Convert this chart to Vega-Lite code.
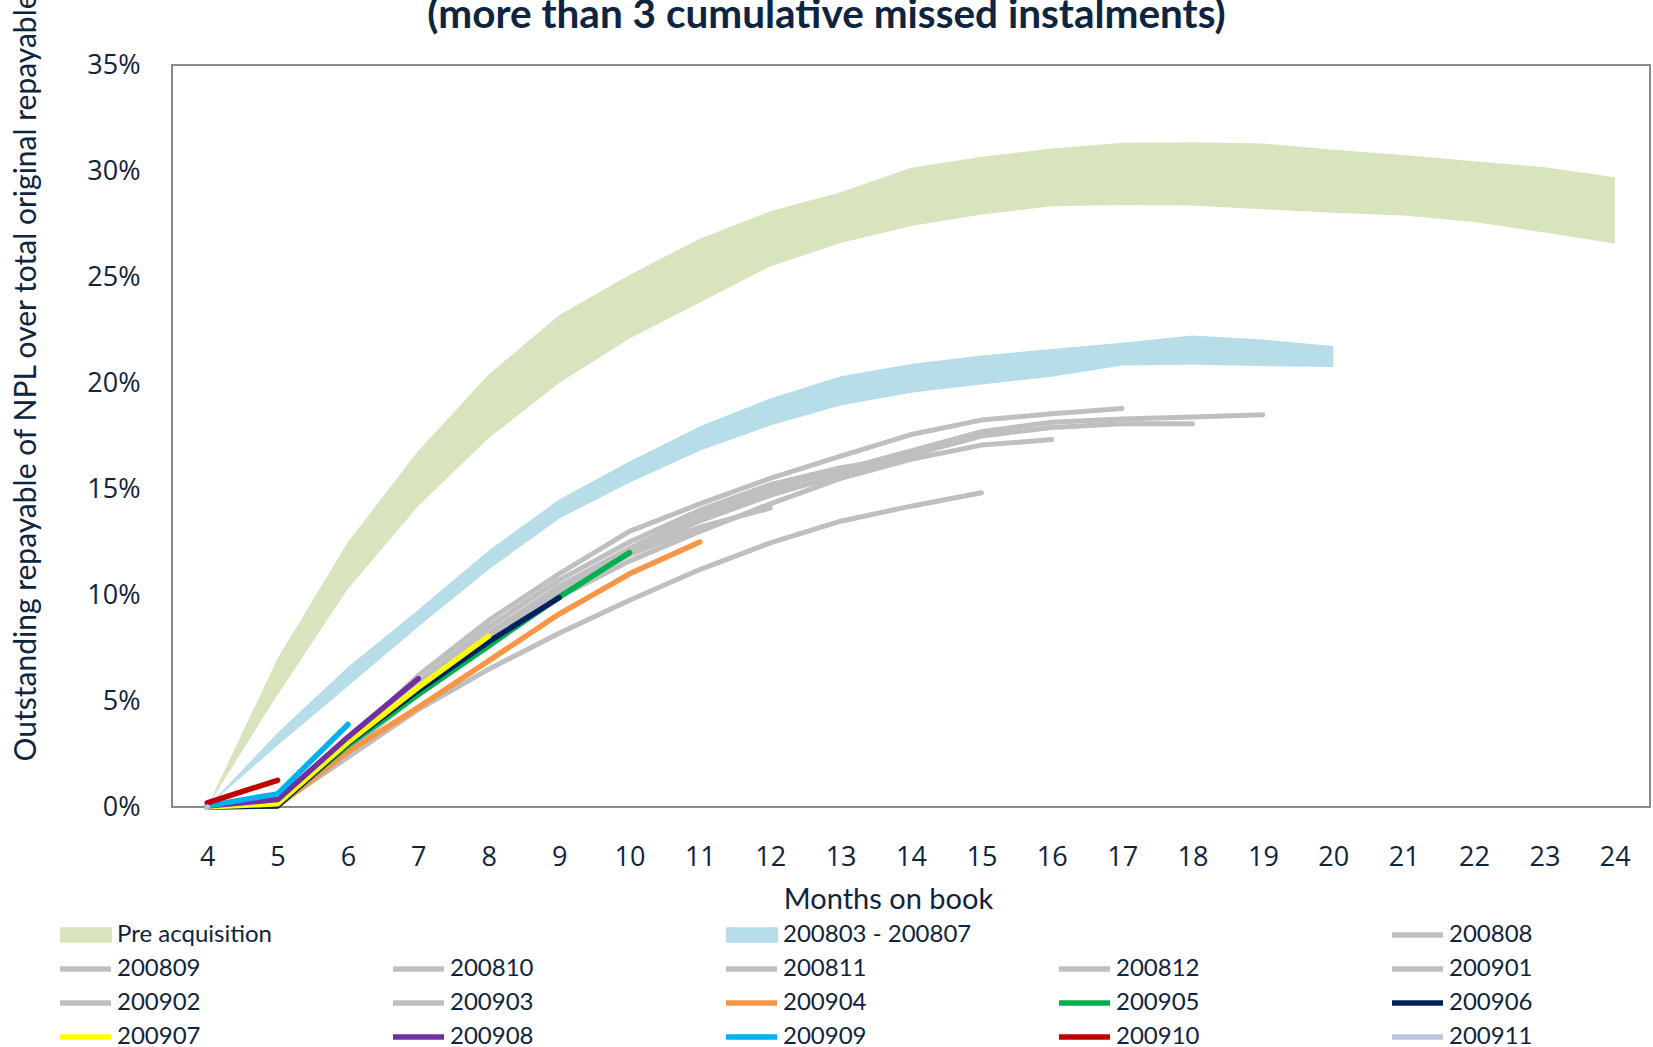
{
  "$schema": "https://vega.github.io/schema/vega-lite/v6.json",
  "width": 1478,
  "height": 742,
  "autosize": {"type": "none"},
  "padding": {"left": 172, "top": 65, "right": 3, "bottom": 240},
  "background": "white",
  "config": {
    "view": {"stroke": "#898989", "strokeWidth": 2},
    "font": "Lato"
  },
  "resolve": {"axis": {"x": "independent"}},
  "datasets": {
    "areas": [
      {"series": "Pre acquisition", "month": 4, "lo": 0, "hi": 0},
      {"series": "Pre acquisition", "month": 5, "lo": 0.053, "hi": 0.070},
      {"series": "Pre acquisition", "month": 6, "lo": 0.103, "hi": 0.125},
      {"series": "Pre acquisition", "month": 7, "lo": 0.142, "hi": 0.168},
      {"series": "Pre acquisition", "month": 8, "lo": 0.174, "hi": 0.204},
      {"series": "Pre acquisition", "month": 9, "lo": 0.200, "hi": 0.232},
      {"series": "Pre acquisition", "month": 10, "lo": 0.221, "hi": 0.251},
      {"series": "Pre acquisition", "month": 11, "lo": 0.238, "hi": 0.268},
      {"series": "Pre acquisition", "month": 12, "lo": 0.255, "hi": 0.281},
      {"series": "Pre acquisition", "month": 13, "lo": 0.266, "hi": 0.290},
      {"series": "Pre acquisition", "month": 14, "lo": 0.274, "hi": 0.3015},
      {"series": "Pre acquisition", "month": 15, "lo": 0.2795, "hi": 0.3067},
      {"series": "Pre acquisition", "month": 16, "lo": 0.2834, "hi": 0.3106},
      {"series": "Pre acquisition", "month": 17, "lo": 0.284, "hi": 0.3133},
      {"series": "Pre acquisition", "month": 18, "lo": 0.2837, "hi": 0.3136},
      {"series": "Pre acquisition", "month": 19, "lo": 0.282, "hi": 0.313},
      {"series": "Pre acquisition", "month": 20, "lo": 0.2803, "hi": 0.310},
      {"series": "Pre acquisition", "month": 21, "lo": 0.279, "hi": 0.3076},
      {"series": "Pre acquisition", "month": 22, "lo": 0.276, "hi": 0.3046},
      {"series": "Pre acquisition", "month": 23, "lo": 0.271, "hi": 0.3018},
      {"series": "Pre acquisition", "month": 24, "lo": 0.2658, "hi": 0.297},
      {"series": "200803 - 200807", "month": 4, "lo": 0, "hi": 0},
      {"series": "200803 - 200807", "month": 5, "lo": 0.029, "hi": 0.035},
      {"series": "200803 - 200807", "month": 6, "lo": 0.057, "hi": 0.066},
      {"series": "200803 - 200807", "month": 7, "lo": 0.085, "hi": 0.093},
      {"series": "200803 - 200807", "month": 8, "lo": 0.112, "hi": 0.121},
      {"series": "200803 - 200807", "month": 9, "lo": 0.136, "hi": 0.145},
      {"series": "200803 - 200807", "month": 10, "lo": 0.153, "hi": 0.163},
      {"series": "200803 - 200807", "month": 11, "lo": 0.168, "hi": 0.1796},
      {"series": "200803 - 200807", "month": 12, "lo": 0.180, "hi": 0.1927},
      {"series": "200803 - 200807", "month": 13, "lo": 0.1894, "hi": 0.2032},
      {"series": "200803 - 200807", "month": 14, "lo": 0.1954, "hi": 0.209},
      {"series": "200803 - 200807", "month": 15, "lo": 0.1993, "hi": 0.213},
      {"series": "200803 - 200807", "month": 16, "lo": 0.2029, "hi": 0.216},
      {"series": "200803 - 200807", "month": 17, "lo": 0.2083, "hi": 0.219},
      {"series": "200803 - 200807", "month": 18, "lo": 0.2086, "hi": 0.2224},
      {"series": "200803 - 200807", "month": 19, "lo": 0.208, "hi": 0.2205},
      {"series": "200803 - 200807", "month": 20, "lo": 0.2076, "hi": 0.2174}
    ],
    "gray": [
      {"series": "200808", "month": 4, "value": 0},
      {"series": "200808", "month": 5, "value": 0.002},
      {"series": "200808", "month": 6, "value": 0.028},
      {"series": "200808", "month": 7, "value": 0.056},
      {"series": "200808", "month": 8, "value": 0.081},
      {"series": "200808", "month": 9, "value": 0.104},
      {"series": "200808", "month": 10, "value": 0.122},
      {"series": "200808", "month": 11, "value": 0.138},
      {"series": "200808", "month": 12, "value": 0.150},
      {"series": "200808", "month": 13, "value": 0.159},
      {"series": "200808", "month": 14, "value": 0.168},
      {"series": "200808", "month": 15, "value": 0.177},
      {"series": "200808", "month": 16, "value": 0.1815},
      {"series": "200808", "month": 17, "value": 0.183},
      {"series": "200808", "month": 18, "value": 0.184},
      {"series": "200808", "month": 19, "value": 0.185},
      {"series": "200809", "month": 4, "value": 0},
      {"series": "200809", "month": 5, "value": 0.002},
      {"series": "200809", "month": 6, "value": 0.028},
      {"series": "200809", "month": 7, "value": 0.055},
      {"series": "200809", "month": 8, "value": 0.080},
      {"series": "200809", "month": 9, "value": 0.102},
      {"series": "200809", "month": 10, "value": 0.120},
      {"series": "200809", "month": 11, "value": 0.135},
      {"series": "200809", "month": 12, "value": 0.147},
      {"series": "200809", "month": 13, "value": 0.157},
      {"series": "200809", "month": 14, "value": 0.166},
      {"series": "200809", "month": 15, "value": 0.175},
      {"series": "200809", "month": 16, "value": 0.179},
      {"series": "200809", "month": 17, "value": 0.1808},
      {"series": "200809", "month": 18, "value": 0.1808},
      {"series": "200810", "month": 4, "value": 0},
      {"series": "200810", "month": 5, "value": 0.002},
      {"series": "200810", "month": 6, "value": 0.031},
      {"series": "200810", "month": 7, "value": 0.062},
      {"series": "200810", "month": 8, "value": 0.088},
      {"series": "200810", "month": 9, "value": 0.110},
      {"series": "200810", "month": 10, "value": 0.130},
      {"series": "200810", "month": 11, "value": 0.143},
      {"series": "200810", "month": 12, "value": 0.155},
      {"series": "200810", "month": 13, "value": 0.1655},
      {"series": "200810", "month": 14, "value": 0.1757},
      {"series": "200810", "month": 15, "value": 0.1825},
      {"series": "200810", "month": 16, "value": 0.1855},
      {"series": "200810", "month": 17, "value": 0.188},
      {"series": "200811", "month": 4, "value": 0},
      {"series": "200811", "month": 5, "value": 0.0015},
      {"series": "200811", "month": 6, "value": 0.027},
      {"series": "200811", "month": 7, "value": 0.053},
      {"series": "200811", "month": 8, "value": 0.077},
      {"series": "200811", "month": 9, "value": 0.099},
      {"series": "200811", "month": 10, "value": 0.116},
      {"series": "200811", "month": 11, "value": 0.130},
      {"series": "200811", "month": 12, "value": 0.143},
      {"series": "200811", "month": 13, "value": 0.155},
      {"series": "200811", "month": 14, "value": 0.164},
      {"series": "200811", "month": 15, "value": 0.1707},
      {"series": "200811", "month": 16, "value": 0.1733},
      {"series": "200812", "month": 4, "value": 0},
      {"series": "200812", "month": 5, "value": 0.001},
      {"series": "200812", "month": 6, "value": 0.0235},
      {"series": "200812", "month": 7, "value": 0.046},
      {"series": "200812", "month": 8, "value": 0.065},
      {"series": "200812", "month": 9, "value": 0.082},
      {"series": "200812", "month": 10, "value": 0.0975},
      {"series": "200812", "month": 11, "value": 0.112},
      {"series": "200812", "month": 12, "value": 0.1246},
      {"series": "200812", "month": 13, "value": 0.1348},
      {"series": "200812", "month": 14, "value": 0.1419},
      {"series": "200812", "month": 15, "value": 0.1482},
      {"series": "200901", "month": 4, "value": 0},
      {"series": "200901", "month": 5, "value": 0.002},
      {"series": "200901", "month": 6, "value": 0.030},
      {"series": "200901", "month": 7, "value": 0.059},
      {"series": "200901", "month": 8, "value": 0.085},
      {"series": "200901", "month": 9, "value": 0.107},
      {"series": "200901", "month": 10, "value": 0.125},
      {"series": "200901", "month": 11, "value": 0.140},
      {"series": "200901", "month": 12, "value": 0.152},
      {"series": "200901", "month": 13, "value": 0.160},
      {"series": "200901", "month": 14, "value": 0.1652},
      {"series": "200902", "month": 4, "value": 0},
      {"series": "200902", "month": 5, "value": 0.002},
      {"series": "200902", "month": 6, "value": 0.029},
      {"series": "200902", "month": 7, "value": 0.057},
      {"series": "200902", "month": 8, "value": 0.082},
      {"series": "200902", "month": 9, "value": 0.104},
      {"series": "200902", "month": 10, "value": 0.121},
      {"series": "200902", "month": 11, "value": 0.136},
      {"series": "200902", "month": 12, "value": 0.148},
      {"series": "200902", "month": 13, "value": 0.156},
      {"series": "200903", "month": 4, "value": 0},
      {"series": "200903", "month": 5, "value": 0.0015},
      {"series": "200903", "month": 6, "value": 0.028},
      {"series": "200903", "month": 7, "value": 0.055},
      {"series": "200903", "month": 8, "value": 0.080},
      {"series": "200903", "month": 9, "value": 0.101},
      {"series": "200903", "month": 10, "value": 0.119},
      {"series": "200903", "month": 11, "value": 0.132},
      {"series": "200903", "month": 12, "value": 0.141}
    ],
    "colored": [
      {"series": "200904", "month": 4, "value": 0},
      {"series": "200904", "month": 5, "value": 0.0005},
      {"series": "200904", "month": 6, "value": 0.026},
      {"series": "200904", "month": 7, "value": 0.047},
      {"series": "200904", "month": 8, "value": 0.069},
      {"series": "200904", "month": 9, "value": 0.091},
      {"series": "200904", "month": 10, "value": 0.110},
      {"series": "200904", "month": 11, "value": 0.125},
      {"series": "200905", "month": 4, "value": 0},
      {"series": "200905", "month": 5, "value": 0.001},
      {"series": "200905", "month": 6, "value": 0.029},
      {"series": "200905", "month": 7, "value": 0.053},
      {"series": "200905", "month": 8, "value": 0.076},
      {"series": "200905", "month": 9, "value": 0.099},
      {"series": "200905", "month": 10, "value": 0.120},
      {"series": "200906", "month": 4, "value": 0},
      {"series": "200906", "month": 5, "value": 0.0005},
      {"series": "200906", "month": 6, "value": 0.030},
      {"series": "200906", "month": 7, "value": 0.055},
      {"series": "200906", "month": 8, "value": 0.078},
      {"series": "200906", "month": 9, "value": 0.0987},
      {"series": "200907", "month": 4, "value": 0},
      {"series": "200907", "month": 5, "value": 0.0015},
      {"series": "200907", "month": 6, "value": 0.0305},
      {"series": "200907", "month": 7, "value": 0.0565},
      {"series": "200907", "month": 8, "value": 0.0806},
      {"series": "200908", "month": 4, "value": 0.0005},
      {"series": "200908", "month": 5, "value": 0.0035},
      {"series": "200908", "month": 6, "value": 0.033},
      {"series": "200908", "month": 7, "value": 0.0605},
      {"series": "200909", "month": 4, "value": 0.0005},
      {"series": "200909", "month": 5, "value": 0.0062},
      {"series": "200909", "month": 6, "value": 0.0389},
      {"series": "200910", "month": 4, "value": 0.002},
      {"series": "200910", "month": 5, "value": 0.0126},
      {"series": "200911", "month": 4, "value": 0}
    ]
  },
  "encoding": {
    "color": {
      "field": "series", "type": "nominal",
      "scale": {
        "domain": ["Pre acquisition", " ", "200803 - 200807", "  ", "200808", "200809", "200810", "200811", "200812", "200901", "200902", "200903", "200904", "200905", "200906", "200907", "200908", "200909", "200910", "200911"],
        "range": ["#D7E4BD", "rgba(255,255,255,0)", "#B7DEE8", "rgba(255,255,255,0)", "#BFBFBF", "#BFBFBF", "#BFBFBF", "#BFBFBF", "#BFBFBF", "#BFBFBF", "#BFBFBF", "#BFBFBF", "#F79646", "#00B050", "#002060", "#FFFF00", "#7030A0", "#00B0F0", "#C00000", "#B9C6DE"]
      },
      "legend": {
        "orient": "none", "legendX": -115, "legendY": 858, "direction": "horizontal",
        "columns": 5, "gridAlign": "all", "columnPadding": 84, "rowPadding": 10, "padding": 0,
        "title": null, "symbolSize": 400, "symbolStrokeWidth": 0, "labelOffset": 36,
        "labelFont": "Lato", "labelFontSize": 24, "labelColor": "#0F243E", "labelLimit": 400,
        "encode": {
          "symbols": {
            "update": {
              "shape": {"signal": "(datum.value === 'Pre acquisition' || datum.value === '200803 - 200807') ? 'M-0.9,-0.78H4.3V0.78H-0.9Z' : 'M-0.9,-0.28H4.2V0.28H-0.9Z'"},
              "fill": {"signal": "scale('color', datum.value)"},
              "opacity": {"value": 1},
              "fillOpacity": {"value": 1},
              "stroke": {"value": "transparent"},
              "strokeWidth": {"value": 0}
            }
          }
        }
      }
    }
  },
  "layer": [
    {
      "data": {"name": "areas"},
      "mark": {"type": "area", "opacity": 1, "interpolate": "linear"},
      "encoding": {
        "x": {
          "field": "month", "type": "quantitative",
          "scale": {"domain": [3.5, 24.5], "nice": false, "zero": false},
          "axis": {
            "orient": "bottom",
            "values": [4,5,6,7,8,9,10,11,12,13,14,15,16,17,18,19,20,21,22,23,24],
            "format": "d", "labelFont": "Open Sans", "labelFontSize": 27, "labelColor": "#0F243E",
            "labelPadding": 37, "labelFlush": false, "labelOverlap": false,
            "ticks": false, "domain": false, "grid": false,
            "title": "Months on book", "titleFont": "Lato", "titleFontSize": 29, "titleFontWeight": "normal",
            "titleColor": "#0F243E", "titleX": 716, "titleY": 101, "titleBaseline": "alphabetic", "titleAlign": "center"
          }
        },
        "y": {
          "field": "lo", "type": "quantitative",
          "scale": {"domain": [0, 0.35], "nice": false, "zero": true},
          "axis": {
            "values": [0, 0.05, 0.1, 0.15, 0.2, 0.25, 0.3, 0.35],
            "format": ".0%", "labelFont": "Open Sans", "labelFontSize": 27, "labelColor": "#0F243E",
            "labelPadding": 32, "labelOverlap": false, "labelFlush": false,
            "ticks": false, "domain": false, "grid": false,
            "title": "Outstanding repayable of NPL over total original repayable",
            "titleFont": "Lato", "titleFontSize": 30, "titleFontWeight": "normal", "titleColor": "#0F243E",
            "titleAngle": -90, "titleAlign": "left", "titleBaseline": "middle", "titleX": -146, "titleY": 696
          }
        },
        "y2": {"field": "hi"}
      }
    },
    {
      "data": {"name": "gray"},
      "mark": {"type": "line", "strokeWidth": 5, "strokeCap": "round", "strokeJoin": "round"},
      "encoding": {
        "x": {
          "field": "month", "type": "quantitative",
          "axis": {
            "orient": "top", "labels": false, "ticks": false, "domain": false, "grid": false,
            "title": "(more than 3 cumulative missed instalments)",
            "titleFont": "Lato", "titleFontSize": 40.5, "titleFontWeight": "bold", "titleColor": "#0F243E",
            "titleX": 654, "titleY": -37.5, "titleBaseline": "alphabetic", "titleAlign": "center"
          }
        },
        "y": {
          "field": "value", "type": "quantitative",
          "axis": {
            "values": [0, 0.05, 0.1, 0.15, 0.2, 0.25, 0.3, 0.35],
            "format": ".0%", "labelFont": "Open Sans", "labelFontSize": 27, "labelColor": "#0F243E",
            "labelPadding": 32, "labelOverlap": false, "labelFlush": false,
            "ticks": false, "domain": false, "grid": false,
            "title": "Outstanding repayable of NPL over total original repayable",
            "titleFont": "Lato", "titleFontSize": 30, "titleFontWeight": "normal", "titleColor": "#0F243E",
            "titleAngle": -90, "titleAlign": "left", "titleBaseline": "middle", "titleX": -146, "titleY": 696
          }
        }
      }
    },
    {
      "data": {"name": "colored"},
      "mark": {"type": "line", "strokeWidth": 5.5, "strokeCap": "round", "strokeJoin": "round"},
      "encoding": {
        "x": {"field": "month", "type": "quantitative", "axis": null},
        "y": {
          "field": "value", "type": "quantitative",
          "axis": {
            "values": [0, 0.05, 0.1, 0.15, 0.2, 0.25, 0.3, 0.35],
            "format": ".0%", "labelFont": "Open Sans", "labelFontSize": 27, "labelColor": "#0F243E",
            "labelPadding": 32, "labelOverlap": false, "labelFlush": false,
            "ticks": false, "domain": false, "grid": false,
            "title": "Outstanding repayable of NPL over total original repayable",
            "titleFont": "Lato", "titleFontSize": 30, "titleFontWeight": "normal", "titleColor": "#0F243E",
            "titleAngle": -90, "titleAlign": "left", "titleBaseline": "middle", "titleX": -146, "titleY": 696
          }
        }
      }
    }
  ]
}
